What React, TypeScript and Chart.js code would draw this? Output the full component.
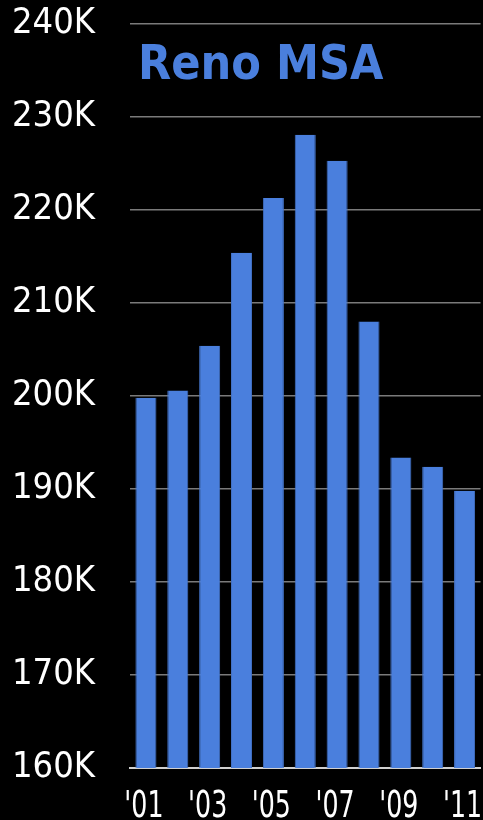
import React, { useEffect, useRef } from "react";
import { Chart, registerables } from "chart.js";

Chart.register(...registerables);

const years = ["'01", "'02", "'03", "'04", "'05", "'06", "'07", "'08", "'09", "'10", "'11"];
const values = [199.8, 200.6, 205.4, 215.4, 221.3, 228.1, 225.3, 208.0, 193.4, 192.4, 189.8];
const yTicks = [160, 170, 180, 190, 200, 210, 220, 230, 240];
const title = "Reno MSA";

const FONT = "'DejaVu Sans Condensed', 'DejaVu Sans', sans-serif";

const zeroPad = (axis: any) => {
  axis.paddingTop = 0;
  axis.paddingBottom = 0;
  axis.paddingLeft = 0;
  axis.paddingRight = 0;
};

export default function App() {
  const ref = useRef<HTMLCanvasElement>(null);
  useEffect(() => {
    if (!ref.current) return;
    const textPlugin = {
      id: "extraText",
      afterDraw(chart: any) {
        const { ctx } = chart;
        ctx.save();
        ctx.font = `bold 48px ${FONT}`;
        ctx.fillStyle = "#4a7fdd";
        ctx.textBaseline = "alphabetic";
        ctx.textAlign = "left";
        ctx.fillText(title, 138, 79);
        ctx.restore();

        const xs = chart.scales.x;
        ctx.save();
        ctx.font = `37px ${FONT}`;
        ctx.fillStyle = "#ffffff";
        ctx.textBaseline = "alphabetic";
        ctx.textAlign = "center";
        years.forEach((lab, i) => {
          if (i % 2 !== 0) return;
          const x = xs.getPixelForValue(i);
          ctx.save();
          ctx.translate(x - 2, xs.top + 49);
          ctx.scale(0.76, 1);
          ctx.fillText(lab, 0, 0);
          ctx.restore();
        });
        ctx.restore();
      },
    };
    const chart = new Chart(ref.current, {
      type: "bar",
      data: {
        labels: years,
        datasets: [
          {
            data: values,
            backgroundColor: "#4a7fdd",
            borderColor: "#4372c6",
            borderWidth: { left: 1, right: 1, top: 0, bottom: 0 } as any,
            barPercentage: 0.66,
            categoryPercentage: 1,
          },
        ],
      },
      options: {
        animation: false,
        responsive: true,
        maintainAspectRatio: false,
        layout: { padding: { top: 24, right: 2.5, left: 0, bottom: 0 } },
        plugins: { legend: { display: false }, tooltip: { enabled: false }, title: { display: false } },
        scales: {
          x: {
            afterFit: (axis: any) => {
              axis.height = 52;
              zeroPad(axis);
            },
            grid: { display: false, drawTicks: false },
            border: { display: true, color: "#d0d0d0", width: 2 },
            ticks: { display: false },
          },
          y: {
            min: 160,
            max: 240,
            afterFit: (axis: any) => {
              axis.width = 130;
              zeroPad(axis);
            },
            afterBuildTicks: (axis: any) => {
              axis.ticks = yTicks.map((v) => ({ value: v }));
            },
            grid: { color: "#7a7a7a", lineWidth: 1.5, drawTicks: false },
            border: { display: false },
            ticks: {
              color: "#ffffff",
              font: { family: FONT, size: 36 },
              padding: 35,
              callback: (v: any) => `${v}K`,
            },
          },
        },
      },
      plugins: [textPlugin],
    });
    return () => chart.destroy();
  }, []);
  return (
    <div style={{ position: "fixed", left: 0, top: 0, width: 483, height: 820, background: "#000" }}>
      <canvas ref={ref} />
    </div>
  );
}
